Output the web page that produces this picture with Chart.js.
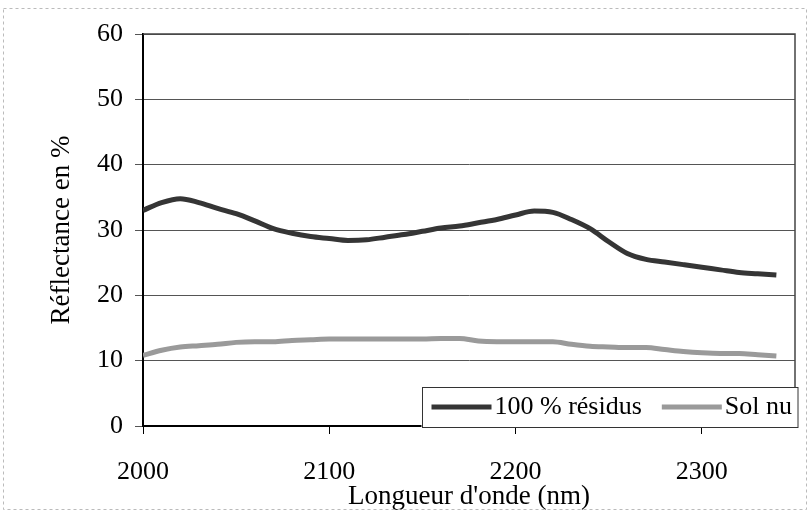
<!DOCTYPE html>
<html>
<head>
<meta charset="utf-8">
<script src="https://cdn.jsdelivr.net/npm/chart.js@4.4.0/dist/chart.umd.min.js"></script>
<style>
  html, body { margin: 0; padding: 0; background: #fff; }
</style>
</head>
<body>
<canvas id="reflectance" width="811" height="515"></canvas>
<script>
// Wavelengths (nm) and reflectance (%)
const wavelengths = [2000, 2010, 2020, 2030, 2040, 2050, 2060, 2070, 2080, 2090,
  2100, 2110, 2120, 2130, 2140, 2150, 2160, 2170, 2180, 2190,
  2200, 2210, 2220, 2230, 2240, 2250, 2260, 2270, 2280, 2290,
  2300, 2310, 2320, 2330, 2340];
const residus = [33.0, 34.2, 34.8, 34.2, 33.3, 32.5, 31.4, 30.2, 29.5, 29.0,
  28.7, 28.4, 28.5, 28.9, 29.3, 29.8, 30.3, 30.6, 31.1, 31.6,
  32.3, 32.9, 32.7, 31.6, 30.2, 28.2, 26.4, 25.5, 25.1, 24.7,
  24.3, 23.9, 23.5, 23.3, 23.1];
const solNu = [10.8, 11.6, 12.1, 12.3, 12.5, 12.8, 12.9, 12.9, 13.1, 13.2,
  13.3, 13.3, 13.3, 13.3, 13.3, 13.3, 13.4, 13.4, 13.0, 12.9,
  12.9, 12.9, 12.9, 12.5, 12.2, 12.1, 12.0, 12.0, 11.7, 11.4,
  11.2, 11.1, 11.1, 10.9, 10.7];
const seriesLabels = ['100 % résidus', 'Sol nu'];
const xTickValues = [2000, 2100, 2200, 2300];

const serif = '"Liberation Serif", "Times New Roman", serif';

const toPoints = (ys) => ys.map((y, i) => ({ x: wavelengths[i], y: y }));

// plot frame (top + right edge) and the faint outer border
const frame = {
  id: 'frame',
  beforeDatasetsDraw(chart) {
    const { ctx, chartArea: a } = chart;
    ctx.save();
    ctx.strokeStyle = '#444';
    ctx.lineWidth = 1.5;
    ctx.beginPath();
    ctx.moveTo(a.left, a.top);
    ctx.lineTo(a.right, a.top);
    ctx.lineTo(a.right, a.bottom);
    ctx.stroke();
    ctx.strokeStyle = '#bbb';
    ctx.lineWidth = 1;
    ctx.setLineDash([3, 3]);
    ctx.strokeRect(3.5, 8.5, chart.width - 8, chart.height - 14);
    ctx.restore();
  },
};

// boxed legend sitting in the lower right corner of the plot
const boxLegend = {
  id: 'boxLegend',
  afterDraw(chart) {
    const { ctx, chartArea: a } = chart;
    ctx.save();
    ctx.font = '26px ' + serif;
    const items = chart.data.datasets.map(ds => ({
      label: ds.label, color: ds.borderColor, w: ctx.measureText(ds.label).width,
    }));
    const sample = 60, gap = 3, padL = 10, padR = 5, itemGap = 20, h = 40;
    const width = padL + padR + itemGap * (items.length - 1)
      + items.reduce((s, it) => s + sample + gap + it.w, 0);
    const right = a.right + 2, bottom = a.bottom + 1;
    const left = right - width, top = bottom - h;
    ctx.fillStyle = '#fff';
    ctx.fillRect(left, top, width, h);
    ctx.strokeStyle = '#333';
    ctx.lineWidth = 1;
    ctx.strokeRect(Math.round(left) + 0.5, Math.round(top) + 0.5, width, h);
    let x = left + padL;
    const cy = top + h / 2;
    items.forEach(it => {
      ctx.strokeStyle = it.color;
      ctx.lineWidth = 5;
      ctx.beginPath();
      ctx.moveTo(x, cy);
      ctx.lineTo(x + sample, cy);
      ctx.stroke();
      x += sample + gap;
      ctx.fillStyle = '#000';
      ctx.textBaseline = 'middle';
      ctx.textAlign = 'left';
      ctx.fillText(it.label, x, cy);
      x += it.w + itemGap;
    });
    ctx.restore();
  },
};

new Chart(document.getElementById('reflectance'), {
  type: 'line',
  data: {
    datasets: [
      {
        label: seriesLabels[0],
        data: toPoints(residus),
        borderColor: '#353535',
        borderWidth: 5,
        pointRadius: 0,
        tension: 0.4,
        cubicInterpolationMode: 'monotone',
      },
      {
        label: seriesLabels[1],
        data: toPoints(solNu),
        borderColor: '#9a9a9a',
        borderWidth: 5,
        pointRadius: 0,
        tension: 0.4,
        cubicInterpolationMode: 'monotone',
      },
    ],
  },
  options: {
    responsive: false,
    devicePixelRatio: 1,
    animation: false,
    layout: { padding: { left: 0, top: 34, right: 16, bottom: 0 } },
    plugins: {
      legend: { display: false },
      tooltip: { enabled: false },
    },
    scales: {
      x: {
        type: 'linear',
        min: 2000,
        max: 2350,
        afterFit: (scale) => { scale.height = 89; },
        afterBuildTicks: (scale) => {
          scale.ticks = xTickValues.map(v => ({ value: v }));
        },
        ticks: {
          stepSize: 100,
          color: '#000',
          padding: 23,
          font: { family: serif, size: 26 },
          callback: (v) => String(v),
        },
        grid: {
          drawOnChartArea: false,
          drawTicks: true,
          tickLength: 8,
          color: '#000',
          lineWidth: 1,
        },
        border: { color: '#000', width: 2 },
        title: {
          display: true,
          text: "Longueur d'onde (nm)",
          color: '#000',
          font: { family: serif, size: 27 },
          padding: { top: 0, bottom: 2 },
        },
      },
      y: {
        min: 0,
        max: 60,
        afterFit: (scale) => { scale.width = 143; },
        ticks: {
          stepSize: 10,
          color: '#000',
          padding: 12,
          font: { family: serif, size: 26 },
        },
        grid: {
          color: '#555',
          lineWidth: 1,
          tickLength: 8,
        },
        border: { color: '#000', width: 2 },
        title: {
          display: true,
          text: 'Réflectance en %',
          color: '#000',
          font: { family: serif, size: 27 },
          padding: { top: 46, bottom: 0 },
        },
      },
    },
  },
  plugins: [frame, boxLegend],
});
</script>
</body>
</html>
